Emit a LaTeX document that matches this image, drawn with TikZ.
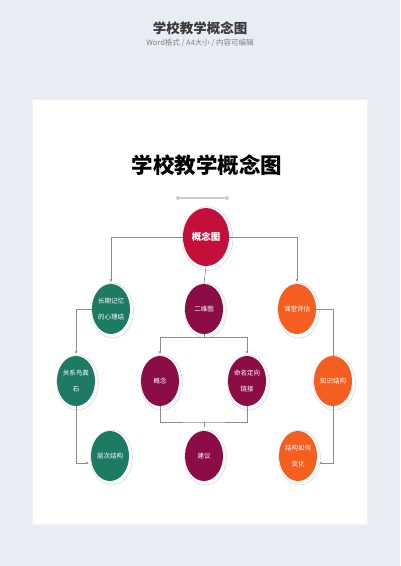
\documentclass[tikz,border=0pt]{standalone}
\usepackage{fontspec}
\newfontfamily\cjk{Noto Sans CJK SC}
\usetikzlibrary{shapes.geometric,shadows,arrows.meta}

\definecolor{pagebg}{HTML}{E9EDF3}
\definecolor{mapred}{HTML}{C40F3A}
\definecolor{mapplum}{HTML}{8C0C46}
\definecolor{mapgreen}{HTML}{1D7A63}
\definecolor{maporange}{HTML}{F45E1E}

\tikzset{
  bubble/.style={ellipse, minimum width=38pt, minimum height=50pt, inner sep=0pt,
    align=center, text=white, fill=#1, font=\cjk\fontsize{6.5}{16}\selectfont,
    general shadow={shadow xshift=3pt, shadow yshift=-3pt, fill=black, opacity=.25},
    general shadow={shadow xshift=1.4pt, shadow yshift=-1.4pt, shadow scale=1.1,
      fill=white, draw=black!18, line width=.4pt}},
  link/.style={draw=black!45, line width=.6pt},
  arrow/.style={link, -{Stealth[length=3pt,width=2.6pt]}, shorten >=2pt},
}

\begin{document}
\begin{tikzpicture}[x=1pt,y=-1pt]
  % Canvas and page.
  \useasboundingbox[fill=pagebg] (0,0) rectangle (400,566);
  \fill[black!6] (31,99) rectangle (368.5,526);
  \fill[white] (32.5,100) rectangle (367,523.5);

  % Headings.
  \node (head) at (200,28) {\cjk\fontsize{13.5}{15}\selectfont\bfseries\color{black!78}学校教学概念图};
  \node (subhead) at (200,43) {\cjk\fontsize{7.5}{9}\selectfont\color{black!50}Word格式 / A4大小 / 内容可编辑};
  \node (title) at (207,165) {\cjk\fontsize{21.5}{24}\selectfont\bfseries 学校教学概念图};

  % Grey bar under the title.
  \coordinate (barl) at (178,198);
  \coordinate (barr) at (227,198);
  \draw[black!20, line width=1.2pt] (barl) -- (barr);
  \fill[black!20] (barl) circle (2pt) (barr) circle (2pt);

  % Root.
  \node[bubble=mapred, minimum width=46pt, minimum height=58pt,
    font=\cjk\fontsize{9.5}{11}\selectfont\bfseries] (root) at (206,237) {概念图};

  % Second row.
  \node[bubble=mapgreen] (memory) at (111,309) {长期记忆\\的心理结};
  \node[bubble=mapplum] (graph) at (204,309) {二维图};
  \node[bubble=maporange] (eval) at (297,309) {课堂评估};

  % Third row.
  \node[bubble=mapgreen] (relation) at (76,381) {关系鸟粪\\石};
  \node[bubble=mapplum] (concept) at (160,381) {概念};
  \node[bubble=mapplum] (naming) at (247,381) {命名定向\\链接};
  \node[bubble=maporange] (knowledge) at (333,381) {知识结构};

  % Fourth row.
  \node[bubble=mapgreen] (layer) at (110,456) {层次结构};
  \node[bubble=mapplum] (advice) at (204,456) {建议};
  \node[bubble=maporange] (change) at (298,456) {结构如何\\变化};

  % Links from the root.
  \draw[arrow] (root.west) -| (memory.north);
  \draw[arrow] (root.east) -| (eval.north);
  \draw[link] (root.south) -- (graph.north);

  % Links from the second row.
  \draw[arrow] (memory.west) -| (relation.north);
  \coordinate (split) at (204,337);
  \draw[link] (graph.south) -- (split);
  \draw[arrow] (split) -| (concept.north);
  \draw[arrow] (split) -| (naming.north);
  \draw[link] (eval.east) -| (knowledge.north);

  % Links into the fourth row.
  \draw[arrow] (relation.south) |- ([yshift=-7pt]layer.west);
  \coordinate (join) at (204,422);
  \draw[link] (concept.south) |- (join) -| (naming.south);
  \draw[link, shorten >=4pt] (join) -- (advice.north);
  \draw[arrow] (knowledge.south) |- ([yshift=-7pt]change.east);
\end{tikzpicture}
\end{document}
